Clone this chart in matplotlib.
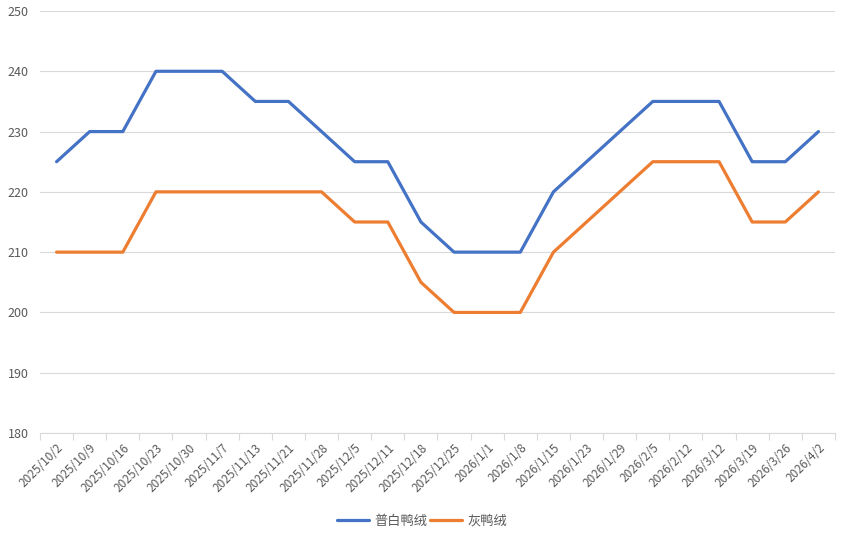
import matplotlib
matplotlib.use("Agg")
import matplotlib.pyplot as plt
from matplotlib.ticker import FixedLocator, NullFormatter

plt.rcParams['font.family'] = ['Noto Sans CJK SC', 'DejaVu Sans']

dates = ["2025/10/2", "2025/10/9", "2025/10/16", "2025/10/23", "2025/10/30",
         "2025/11/7", "2025/11/13", "2025/11/21", "2025/11/28", "2025/12/5",
         "2025/12/11", "2025/12/18", "2025/12/25", "2026/1/1", "2026/1/8",
         "2026/1/15", "2026/1/23", "2026/1/29", "2026/2/5", "2026/2/12",
         "2026/3/12", "2026/3/19", "2026/3/26", "2026/4/2"]
white = [225, 230, 230, 240, 240, 240, 235, 235, 230, 225, 225, 215,
         210, 210, 210, 220, 225, 230, 235, 235, 235, 225, 225, 230]
grey = [210, 210, 210, 220, 220, 220, 220, 220, 220, 215, 215, 205,
        200, 200, 200, 210, 215, 220, 225, 225, 225, 215, 215, 220]
series_names = ["普白鸭绒", "灰鸭绒"]

W, H = 843, 539
fig = plt.figure(figsize=(W / 100, H / 100), dpi=100)
ax = fig.add_axes([40 / W, 1 - 433 / H, (835 - 40) / W, (433 - 11) / H])

x = list(range(len(dates)))
ax.plot(x, white, color="#4472C4", lw=2.3, label=series_names[0], solid_capstyle="round")
ax.plot(x, grey, color="#ED7D31", lw=2.3, label=series_names[1], solid_capstyle="round")

ax.set_xlim(-0.5, len(dates) - 0.5)
ax.set_ylim(180, 250)
ax.set_yticks(range(180, 251, 10))
ax.yaxis.grid(True, color="#D9D9D9", lw=0.8)
ax.set_axisbelow(True)

ax.set_xticks(x)
ax.set_xticklabels(dates, rotation=45, ha="right", rotation_mode="anchor",
                   fontsize=8.5, color="#595959")
ax.tick_params(axis="x", length=0, pad=6)
ax.xaxis.set_minor_locator(FixedLocator([i - 0.5 for i in range(len(dates) + 1)]))
ax.xaxis.set_minor_formatter(NullFormatter())
ax.tick_params(axis="x", which="minor", length=5, color="#D9D9D9", width=0.8)
ax.tick_params(axis="y", length=0, labelsize=9, labelcolor="#595959", pad=8)

for s in ["top", "right", "left"]:
    ax.spines[s].set_visible(False)
ax.spines["bottom"].set_color("#D9D9D9")
ax.spines["bottom"].set_linewidth(0.8)

fig.legend(loc="center", bbox_to_anchor=(422 / W, 1 - 521 / H), ncol=2, frameon=False,
           fontsize=9.5, labelcolor="#595959", handlelength=2.4, columnspacing=0.25,
           handletextpad=0.4)

fig.savefig("out.png", dpi=100)
